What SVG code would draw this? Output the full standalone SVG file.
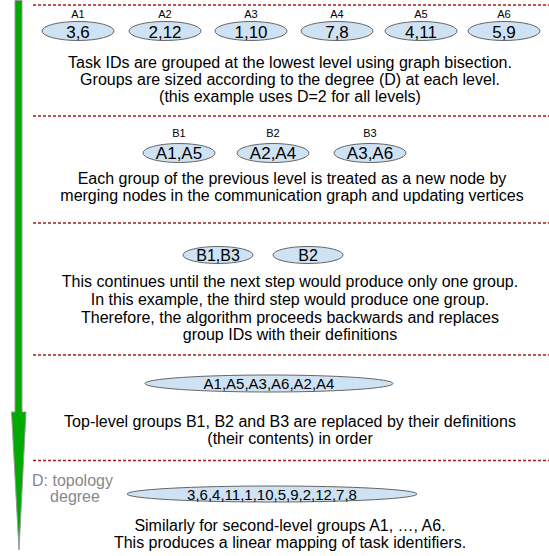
<svg xmlns="http://www.w3.org/2000/svg" width="549" height="556" viewBox="0 0 549 556">
<style>
text{font-family:"Liberation Sans",Arial,sans-serif;fill:#000}
.lbl{font-size:11px;text-anchor:middle}
.et{font-size:17px;text-anchor:middle}
.et16{font-size:16px;text-anchor:middle}
.et15{font-size:15px;text-anchor:middle}
.body{font-size:16px;text-anchor:middle}
.grey{font-size:16px;fill:#888}
ellipse{fill:#cfe2f3;stroke:#666;stroke-width:1}
.sep{stroke:#a61c1c;stroke-width:1.3;stroke-dasharray:3,2;fill:none}
</style>
<rect width="549" height="556" fill="#fff"/>
<g id="arrow">
<path d="M15,0.5 L22,0.5 L22,412 L26,412 L19,550 L11.5,412 L15,412 Z" fill="#00aa00" stroke="#999" stroke-width="1"/>
</g>
<g id="separators">
<line class="sep" x1="33" y1="5" x2="549" y2="5"/>
<line class="sep" x1="33" y1="116" x2="549" y2="116"/>
<line class="sep" x1="33" y1="223" x2="549" y2="223"/>
<line class="sep" x1="33" y1="355" x2="549" y2="355"/>
<line class="sep" x1="33" y1="460.5" x2="549" y2="460.5"/>
</g>
<g id="A1"><text class="lbl" x="78" y="18">A1</text><ellipse cx="78" cy="31" rx="36" ry="9.5"/><text class="et" x="78" y="37.5">3,6</text></g>
<g id="A2"><text class="lbl" x="165" y="18">A2</text><ellipse cx="165" cy="31" rx="36" ry="9.5"/><text class="et" x="165" y="37.5">2,12</text></g>
<g id="A3"><text class="lbl" x="251" y="18">A3</text><ellipse cx="251" cy="31" rx="36" ry="9.5"/><text class="et" x="251" y="37.5">1,10</text></g>
<g id="A4"><text class="lbl" x="337" y="18">A4</text><ellipse cx="337" cy="31" rx="36" ry="9.5"/><text class="et" x="337" y="37.5">7,8</text></g>
<g id="A5"><text class="lbl" x="421" y="18">A5</text><ellipse cx="421" cy="31" rx="36" ry="9.5"/><text class="et" x="421" y="37.5">4,11</text></g>
<g id="A6"><text class="lbl" x="504" y="18">A6</text><ellipse cx="504" cy="31" rx="36" ry="9.5"/><text class="et" x="504" y="37.5">5,9</text></g>
<g id="text1">
<text class="body" x="290" y="68">Task IDs are grouped at the lowest level using graph bisection.</text>
<text class="body" x="290" y="85">Groups are sized according to the degree (D) at each level.</text>
<text class="body" x="290" y="102">(this example uses D=2 for all levels)</text>
</g>
<g id="B1"><text class="lbl" x="179" y="137">B1</text><ellipse cx="179" cy="153" rx="36" ry="9.5"/><text class="et" x="179" y="159">A1,A5</text></g>
<g id="B2"><text class="lbl" x="273" y="137">B2</text><ellipse cx="273" cy="153" rx="36" ry="9.5"/><text class="et" x="273" y="159">A2,A4</text></g>
<g id="B3"><text class="lbl" x="370" y="137">B3</text><ellipse cx="370" cy="153" rx="36" ry="9.5"/><text class="et" x="370" y="159">A3,A6</text></g>
<g id="text2">
<text class="body" x="292" y="184">Each group of the previous level is treated as a new node by</text>
<text class="body" x="292" y="201">merging nodes in the communication graph and updating vertices</text>
</g>
<g id="C1"><ellipse cx="218" cy="255" rx="35" ry="8.5"/><text class="et16" x="218" y="261">B1,B3</text></g>
<g id="C2"><ellipse cx="308" cy="255" rx="35" ry="8.5"/><text class="et16" x="308" y="261">B2</text></g>
<g id="text3">
<text class="body" x="290" y="287">This continues until the next step would produce only one group.</text>
<text class="body" x="290" y="305">In this example, the third step would produce one group.</text>
<text class="body" x="290" y="323">Therefore, the algorithm proceeds backwards and replaces</text>
<text class="body" x="290" y="340">group IDs with their definitions</text>
</g>
<g id="D1"><ellipse cx="269" cy="383.5" rx="124" ry="8.5"/><text class="et15" x="269" y="389">A1,A5,A3,A6,A2,A4</text></g>
<g id="text4">
<text class="body" x="290" y="427">Top-level groups B1, B2 and B3 are replaced by their definitions</text>
<text class="body" x="290" y="444">(their contents) in order</text>
</g>
<g id="legend">
<text class="grey" x="32" y="485.5">D: topology</text>
<text class="grey" x="75" y="501.5" text-anchor="middle">degree</text>
</g>
<g id="E1"><ellipse cx="272" cy="494" rx="145" ry="8"/><text class="et15" x="272" y="499.5">3,6,4,11,1,10,5,9,2,12,7,8</text></g>
<g id="text5">
<text class="body" x="290" y="531">Similarly for second-level groups A1, …, A6.</text>
<text class="body" x="290" y="548">This produces a linear mapping of task identifiers.</text>
</g>
</svg>
